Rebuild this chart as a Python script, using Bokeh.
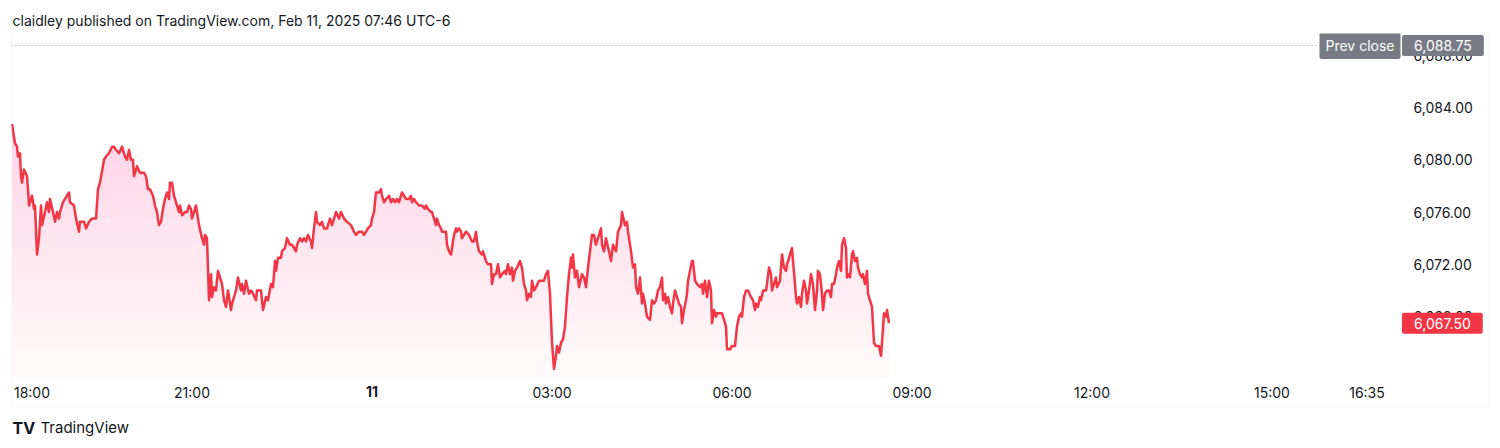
from bokeh.plotting import figure
from bokeh.models import (FixedTicker, NumeralTickFormatter, LinearAxis, Label,
                          BoxAnnotation, Range1d)
from bokeh.embed import file_html
from bokeh.resources import INLINE
import numpy as np

# ---- data: minutes since 18:00 (Feb 10) and ES price ----
minutes = [0, 3, 5, 6, 8, 9, 10, 12, 15, 16, 17, 20, 22, 23, 25, 27, 29, 30, 33, 35,
           37, 38, 41, 43, 45, 47, 48, 51, 53, 57, 58, 62, 64, 67, 68, 72, 74, 77, 80, 84,
           86, 88, 92, 94, 97, 100, 102, 104, 107, 110, 113, 115, 117, 119, 121, 122, 125, 128, 132, 134,
           136, 138, 141, 143, 145, 147, 149, 151, 153, 155, 157, 158, 160, 162, 163, 165, 167, 168, 170, 173,
           175, 177, 179, 180, 184, 185, 187, 190, 192, 193, 195, 197, 199, 200, 202, 204, 206, 209, 210, 212,
           214, 216, 219, 220, 222, 224, 226, 229, 230, 232, 234, 237, 239, 241, 244, 245, 249, 251, 254, 256,
           259, 261, 263, 264, 266, 269, 270, 273, 275, 278, 280, 284, 285, 288, 290, 292, 294, 296, 299, 300,
           302, 304, 305, 308, 310, 312, 315, 318, 320, 322, 324, 327, 329, 332, 335, 339, 342, 344, 347, 350,
           352, 354, 356, 359, 360, 362, 364, 367, 369, 370, 372, 374, 377, 379, 381, 383, 385, 387, 390, 392,
           394, 397, 399, 400, 402, 404, 407, 410, 413, 414, 416, 419, 420, 422, 424, 425, 427, 429, 430, 432,
           434, 435, 437, 439, 440, 442, 444, 445, 447, 449, 450, 452, 454, 457, 460, 462, 464, 465, 467, 470,
           471, 473, 474, 476, 479, 480, 482, 484, 486, 488, 490, 493, 494, 496, 498, 500, 501, 503, 505, 508,
           510, 512, 514, 515, 517, 519, 520, 522, 524, 527, 530, 532, 534, 536, 538, 540, 542, 544, 545, 547,
           549, 551, 553, 555, 557, 559, 560, 561, 563, 565, 567, 570, 572, 574, 576, 578, 580, 582, 584, 586,
           589, 590, 592, 594, 597, 599, 601, 604, 606, 609, 610, 613, 615, 616, 619, 621, 623, 624, 626, 628,
           630, 631, 633, 635, 638, 640, 642, 644, 646, 648, 650, 651, 653, 654, 656, 658, 660, 661, 663, 665,
           667, 669, 670, 672, 674, 675, 676, 678, 680, 681, 683, 685, 688, 690, 691, 693, 695, 697, 699, 700,
           702, 704, 705, 707, 710, 712, 714, 715, 718, 720, 723, 725, 727, 729, 730, 732, 734, 736, 739, 741,
           743, 744, 746, 748, 749, 751, 754, 755, 757, 759, 760, 762, 764, 765, 768, 770, 772, 774, 775, 777,
           779, 780, 781, 783, 784, 785, 787, 789, 790, 792, 794, 795, 797, 799, 801, 803, 805, 806, 808, 810,
           811, 813, 815, 817, 819, 820, 822, 824, 825, 827, 829, 830, 832, 834, 835, 836, 838, 840, 841, 843,
           845, 846, 848, 850, 851, 853, 855, 856, 858, 860, 862, 864, 867, 869, 870, 872, 874, 875, 877]

prices = [6082.75, 6081.25, 6081.0, 6080.25, 6080.5, 6078.75, 6078.25, 6079.25, 6078.75, 6077.75,
          6076.5, 6077.25, 6076.25, 6076.5, 6072.75, 6074.0, 6076.5, 6075.0, 6076.0, 6076.75,
          6076.0, 6077.0, 6076.0, 6075.25, 6076.0, 6075.5, 6076.0, 6076.75, 6077.0, 6077.5,
          6076.75, 6076.5, 6075.5, 6074.5, 6075.25, 6075.25, 6074.75, 6075.25, 6075.5, 6075.5,
          6077.75, 6078.25, 6080.0, 6080.25, 6080.5, 6081.0, 6081.0, 6080.75, 6080.5, 6081.0,
          6080.25, 6080.0, 6080.75, 6080.0, 6080.0, 6078.75, 6079.5, 6079.0, 6079.0, 6078.75,
          6077.75, 6077.75, 6077.25, 6076.5, 6076.0, 6075.0, 6075.25, 6076.25, 6077.0, 6077.5,
          6077.0, 6078.25, 6078.25, 6077.25, 6077.0, 6076.5, 6076.0, 6076.5, 6075.75, 6076.0,
          6076.0, 6076.5, 6076.25, 6075.5, 6076.5, 6076.0, 6075.0, 6074.0, 6073.5, 6074.25,
          6074.0, 6069.25, 6071.25, 6069.5, 6070.25, 6070.0, 6071.5, 6070.75, 6070.5, 6069.25,
          6068.75, 6070.0, 6068.5, 6069.0, 6069.5, 6070.0, 6071.0, 6070.0, 6070.5, 6069.75,
          6070.75, 6069.75, 6070.0, 6069.75, 6069.25, 6070.0, 6070.0, 6068.5, 6069.5, 6069.25,
          6070.5, 6070.25, 6072.25, 6071.5, 6072.5, 6072.5, 6073.0, 6073.25, 6074.0, 6073.5,
          6073.5, 6073.0, 6073.5, 6074.0, 6073.75, 6074.0, 6073.75, 6074.25, 6073.75, 6073.25,
          6074.75, 6076.0, 6075.25, 6075.0, 6075.25, 6074.75, 6074.75, 6075.5, 6075.0, 6075.5,
          6076.0, 6075.5, 6076.0, 6075.5, 6075.25, 6075.0, 6074.5, 6074.25, 6074.5, 6074.5,
          6074.25, 6074.5, 6074.75, 6075.0, 6075.5, 6076.0, 6077.5, 6077.5, 6077.75, 6077.25,
          6076.75, 6077.0, 6077.25, 6076.75, 6077.0, 6076.75, 6077.0, 6076.75, 6077.5, 6077.25,
          6077.0, 6077.0, 6077.25, 6076.75, 6077.0, 6076.75, 6076.5, 6076.5, 6076.25, 6076.5,
          6076.25, 6076.0, 6076.0, 6075.5, 6075.0, 6075.5, 6075.0, 6074.75, 6074.5, 6074.5,
          6074.5, 6073.5, 6073.0, 6072.75, 6073.25, 6074.25, 6074.75, 6074.5, 6074.75, 6074.5,
          6074.0, 6074.25, 6074.5, 6074.25, 6073.75, 6073.75, 6074.5, 6073.75, 6073.0, 6072.75,
          6073.0, 6072.5, 6072.25, 6072.0, 6072.0, 6070.5, 6071.25, 6071.25, 6072.0, 6071.0,
          6071.25, 6071.5, 6071.25, 6072.0, 6071.25, 6071.75, 6070.75, 6071.5, 6071.75, 6072.25,
          6071.75, 6070.5, 6070.0, 6069.25, 6069.75, 6069.5, 6070.75, 6070.0, 6070.25, 6070.75,
          6070.75, 6070.75, 6071.25, 6071.5, 6069.75, 6066.0, 6064.0, 6065.0, 6065.75, 6065.25,
          6066.0, 6066.25, 6067.25, 6069.5, 6071.25, 6072.5, 6071.75, 6072.75, 6071.0, 6071.5,
          6070.25, 6071.25, 6071.0, 6070.25, 6071.75, 6073.0, 6074.25, 6074.25, 6073.5, 6074.0,
          6074.75, 6073.5, 6073.0, 6074.0, 6073.0, 6072.25, 6073.5, 6073.0, 6074.5, 6075.0,
          6076.0, 6075.0, 6075.25, 6074.5, 6073.0, 6071.75, 6072.0, 6070.25, 6069.75, 6071.0,
          6069.0, 6069.75, 6069.0, 6068.0, 6067.75, 6069.25, 6069.0, 6069.25, 6070.0, 6070.25,
          6071.0, 6069.25, 6069.75, 6069.0, 6069.5, 6068.75, 6068.25, 6069.0, 6070.0, 6069.5,
          6069.0, 6068.75, 6067.5, 6068.5, 6069.25, 6069.75, 6070.75, 6071.5, 6072.25, 6072.25,
          6070.75, 6070.5, 6070.25, 6070.5, 6069.75, 6070.75, 6069.5, 6070.75, 6070.0, 6067.5,
          6068.5, 6068.0, 6068.25, 6068.25, 6068.25, 6067.75, 6067.25, 6065.5, 6065.5, 6065.75,
          6065.75, 6067.25, 6068.0, 6068.25, 6068.0, 6069.5, 6070.0, 6070.0, 6069.5, 6069.25,
          6068.5, 6069.0, 6068.75, 6069.5, 6069.25, 6070.0, 6070.0, 6070.5, 6071.75, 6071.25,
          6070.0, 6070.5, 6071.0, 6070.25, 6070.75, 6072.75, 6071.75, 6071.5, 6072.0, 6072.5,
          6073.0, 6073.25, 6072.25, 6070.5, 6069.5, 6069.0, 6069.5, 6068.75, 6069.75, 6070.75,
          6070.0, 6069.0, 6070.0, 6071.25, 6070.5, 6068.5, 6070.0, 6071.5, 6071.25, 6069.75,
          6068.5, 6069.75, 6070.0, 6070.0, 6069.5, 6070.5, 6070.5, 6071.25, 6071.75, 6072.25,
          6071.5, 6073.5, 6074.0, 6073.25, 6071.0, 6071.25, 6071.0, 6072.75, 6073.0, 6072.25,
          6072.5, 6071.75, 6071.25, 6071.0, 6071.25, 6070.5, 6071.5, 6069.75, 6069.25, 6068.75,
          6066.0, 6065.75, 6065.75, 6065.0, 6066.0, 6068.25, 6068.0, 6068.5, 6067.5]

prev_close = 6088.75
last_price = 6067.50

x_tick_pos = [20, 180, 360, 540, 720, 900, 1080, 1260, 1355]
x_tick_labels = ["18:00", "21:00", "11", "03:00", "06:00", "09:00", "12:00", "15:00", "16:35"]
y_ticks = [6068, 6072, 6076, 6080, 6084, 6088]

title_text = "claidley published on TradingView.com, Feb 11, 2025 07:46 UTC-6"

FONT = "Inter"
RED = "#f23645"
TXT = "#131722"

# ---- layout geometry (pixels) ----
W, H = 1500, 448
TOP = 33                 # frame top (below the title line)
PX_PER_MIN = 1.0
X_ORIGIN = 11.5          # pixel of 18:00
PX_PER_PT = 13.07
Y_REF_PX, Y_REF_VAL = 107.0, 6084.0


def xval(px):
    return (px - X_ORIGIN) / PX_PER_MIN


def yval(py):
    return Y_REF_VAL - (py - Y_REF_PX) / PX_PER_PT


p = figure(width=W, height=H, output_backend="svg", toolbar_location=None,
           x_range=Range1d(xval(0), xval(W)), y_range=Range1d(yval(H), yval(TOP)),
           min_border_left=0, min_border_right=0, min_border_top=TOP, min_border_bottom=0,
           x_axis_location=None, y_axis_location=None)
p.outline_line_color = None
p.background_fill_color = "white"
p.border_fill_color = "white"
for g in p.grid:
    g.visible = False

p.title.text = title_text
p.title.text_font = FONT
p.title.text_font_size = "14px"
p.title.text_font_style = "normal"
p.title.text_color = TXT
p.title.offset = 12
p.title.standoff = 10

# pane border
p.add_layout(BoxAnnotation(left=xval(11), right=xval(1488), top=yval(32), bottom=yval(406),
                           fill_alpha=0, line_color="#e8eaef", line_width=1))

# gradient-like area fill
mins = np.array(minutes, dtype=float)
pr = np.array(prices)
area_bottom = yval(377)
p.varea(x=mins, y1=area_bottom, y2=pr, fill_color=RED, fill_alpha=0.03)
for lv in np.linspace(6064.5, 6082.5, 19):
    p.varea(x=mins, y1=lv, y2=np.maximum(pr, lv), fill_color=RED, fill_alpha=0.0075)

p.line(mins, pr, line_color=RED, line_width=2.5, line_join="round")

# axes (labels drawn into the pane, as in the original)
xax = LinearAxis(ticker=FixedTicker(ticks=x_tick_pos))
xax.major_label_overrides = {t: (l if l != "11" else "") for t, l in zip(x_tick_pos, x_tick_labels)}
xax.axis_line_color = None
xax.major_tick_line_color = None
xax.minor_tick_line_color = None
xax.major_tick_out = 0
xax.major_tick_in = 0
xax.major_label_standoff = -65
xax.major_label_text_font = FONT
xax.major_label_text_font_size = "14px"
xax.major_label_text_color = TXT
p.add_layout(xax, "below")

yax = LinearAxis(ticker=FixedTicker(ticks=y_ticks), formatter=NumeralTickFormatter(format="0,0.00"))
yax.axis_line_color = None
yax.major_tick_line_color = None
yax.minor_tick_line_color = None
yax.major_tick_out = 0
yax.major_tick_in = 0
yax.major_label_standoff = -87
yax.major_label_text_font = FONT
yax.major_label_text_font_size = "14px"
yax.major_label_text_color = TXT
p.add_layout(yax, "right")

# bold day label
p.add_layout(Label(x=360, y=yval(391), text="11", text_align="center", text_baseline="middle",
                   text_font=FONT, text_font_size="14px", text_font_style="bold", text_color=TXT))

# previous close dotted line and tags
p.line(x=[xval(11), xval(1318)], y=[prev_close, prev_close], line_color="#9598a1",
       line_dash="1 3", line_width=1)
p.add_layout(Label(x=xval(1400), y=prev_close, text="Prev close", text_align="right",
                   text_baseline="middle", text_font=FONT, text_font_size="14px", text_color="white",
                   background_fill_color="#787b86", padding=(6, 5), border_radius=2))
p.add_layout(Label(x=xval(1401.5), y=prev_close, text=f"{prev_close:,.2f}", text_align="left",
                   text_baseline="middle", text_font=FONT, text_font_size="14px", text_color="white",
                   background_fill_color="#787b86", padding=(12, 5), border_radius=2))
p.add_layout(Label(x=xval(1401.5), y=last_price, text=f"{last_price:,.2f}", text_align="left",
                   text_baseline="middle", text_font=FONT, text_font_size="14px", text_color="white",
                   background_fill_color=RED, padding=(12, 5), border_radius=2))

# footer
p.add_layout(Label(x=xval(12), y=yval(427), text="TV", text_baseline="middle", text_font=FONT,
                   text_font_size="16px", text_font_style="bold", text_color=TXT))
p.add_layout(Label(x=xval(40), y=yval(427), text="TradingView", text_baseline="middle",
                   text_font=FONT, text_font_size="15px", text_color=TXT))

open("out.html", "w").write(file_html(p, INLINE))
